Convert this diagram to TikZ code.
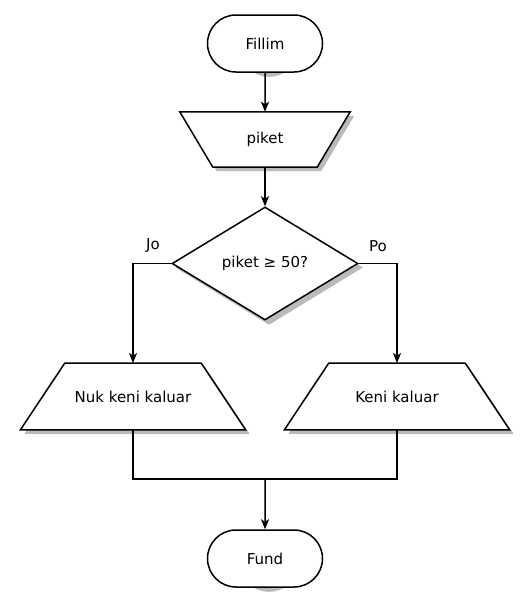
\documentclass[tikz,border=0pt]{standalone}
\usepackage{fontspec}
\setmainfont{DejaVu Sans}
\usetikzlibrary{shapes.geometric,shapes.misc,arrows.meta,backgrounds}

\begin{document}
\begin{tikzpicture}[x=1pt,y=-1pt,
  every node/.style={font=\fontsize{15pt}{18pt}\selectfont},
  shade/.style={fill=black!27},
  box/.style={draw,line width=1.5pt,fill=white,inner sep=0pt},
  term/.style={box,shape=rounded rectangle,minimum width=115pt,minimum height=57pt},
  io/.style={inner sep=0pt},
  outline/.style={draw,line width=1.5pt,fill=white,line join=miter},
  test/.style={box,shape=diamond,minimum width=186pt,minimum height=113pt},
  flow/.style={line width=1.5pt,-{Stealth[length=10pt,width=8pt,inset=2.5pt]}},
  line/.style={line width=1.5pt},
  off/.style={shift={(4pt,-4pt)}}]
\useasboundingbox (0,0) rectangle (531,600);
\node[term] (start) at (265,43.5) {Fillim};
\node[io,minimum width=170pt,minimum height=55pt] (in) at (265,139.5) {piket};
\node[test] (dec) at (265,263.5) {piket ≥ 50?};
\node[io,minimum width=225pt,minimum height=66.5pt] (no) at (133,396.5) {Nuk keni kaluar};
\node[io,minimum width=225pt,minimum height=66.5pt] (yes) at (397,396.5) {Keni kaluar};
\node[term] (end) at (265,558.5) {Fund};
\node (jo) at (153,246) {Jo};
\node (po) at (378,246) {Po};
\coordinate (join) at (265,479);
\begin{scope}[on background layer]
\foreach \n in {start,end}
  \fill[shade,rounded corners=28.5pt] ([off]\n.north west) rectangle ([off]\n.south east);
\fill[shade] ([off]dec.north) -- ([off]dec.east) -- ([off]dec.south) -- ([off]dec.west) -- cycle;
\fill[shade] ([off]in.north west) -- ([off]in.north east) -- ([off,xshift=-33pt]in.south east)
  -- ([off,xshift=33pt]in.south west) -- cycle;
\foreach \n in {no,yes}
  \fill[shade] ([off,xshift=44.5pt]\n.north west) -- ([off,xshift=-44.5pt]\n.north east)
    -- ([off]\n.south east) -- ([off]\n.south west) -- cycle;
\draw[outline] (in.north west) -- (in.north east) -- ([xshift=-33pt]in.south east)
  -- ([xshift=33pt]in.south west) -- cycle;
\foreach \n in {no,yes}
  \draw[outline] ([xshift=44.5pt]\n.north west) -- ([xshift=-44.5pt]\n.north east)
    -- (\n.south east) -- (\n.south west) -- cycle;
\end{scope}
\draw[flow] (start) -- (in);
\draw[flow] (in) -- (dec);
\draw[flow] (dec.west) -| (no.north);
\draw[flow] (dec.east) -| (yes.north);
\draw[line] (no.south) |- (join);
\draw[line] (yes.south) |- (join);
\draw[flow] (join) -- (end);
\end{tikzpicture}
\end{document}
